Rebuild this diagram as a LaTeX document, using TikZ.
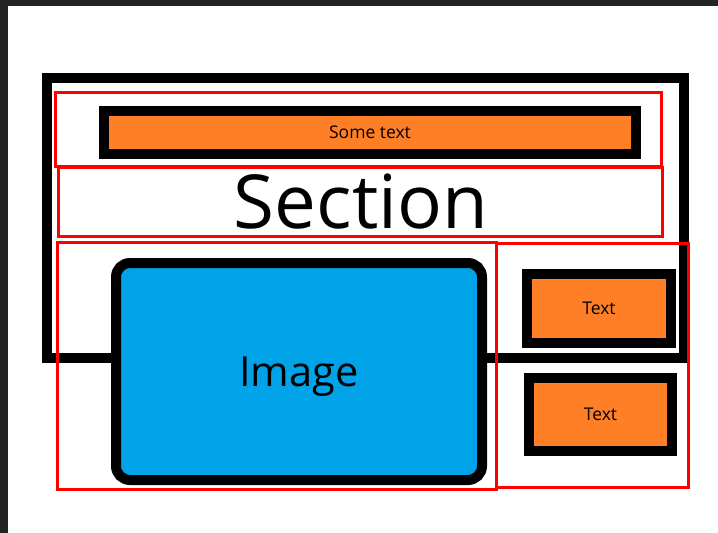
\documentclass[tikz,border=0pt]{standalone}
\usepackage{fontspec}
\setmainfont{Open Sans}
\usepackage{xcolor}
\usepackage{tikz}
\usetikzlibrary{positioning,calc}
\definecolor{paintorange}{HTML}{FF7F27}
\definecolor{paintblue}{HTML}{00A2E8}
\definecolor{chrome}{HTML}{222324}
\tikzset{
  frame/.style  = {draw=black, line width=10pt},
  guide/.style  = {draw=red, line width=3pt},
  obox/.style   = {rectangle, draw=black, line width=10pt, fill=paintorange,
                   inner sep=0pt, font=\fontsize{17.5}{20}\selectfont},
  imgbox/.style = {rectangle, draw=black, line width=10pt, fill=paintblue,
                   rounded corners=14pt, inner sep=0pt,
                   minimum width=366pt, minimum height=217pt,
                   text height=29.6pt, text depth=0pt,
                   font=\fontsize{41.5}{48}\selectfont},
  title/.style  = {inner sep=0pt, font=\fontsize{74.5}{84}\selectfont},
}

\begin{document}
\begin{tikzpicture}[x=1pt, y=-1pt]

%% ── Canvas ────────────────────────────────────────────────────────────────
\useasboundingbox (0,0) rectangle (718,533);
\fill[white] (0,0) rectangle (718,533);
\fill[chrome] (0,0) rectangle (718,6);
\fill[chrome] (0,0) rectangle (8,533);

%% ── Outer section frame ───────────────────────────────────────────────────
\draw[frame] (47,77.7) rectangle (684,357.5);

%% ── Header bar ────────────────────────────────────────────────────────────
\node[obox, minimum width=532pt, minimum height=43pt] (bar) at (370,132.5) {Some text};

%% ── Heading ───────────────────────────────────────────────────────────────
\node[title] (sec) at (361,201.5) {Section};

%% ── Image ─────────────────────────────────────────────────────────────────
\node[imgbox] (img) at (299,371.5) {Image};

%% ── Side texts ────────────────────────────────────────────────────────────
\node[obox, minimum width=144pt, minimum height=69pt] (txtA) at (599,308.5) {Text};
\node[obox, minimum width=143pt, minimum height=73pt] (txtB) at (600.5,414.5) {Text};

%% ── Red layout guides ─────────────────────────────────────────────────────
\draw[guide] (55,92) rectangle (661,166);
\draw[guide] (58,167.5) rectangle (662,236.5);
\draw[guide] (57.5,242) rectangle (496,489);
\draw[guide] (496,243) rectangle (688,487);

\end{tikzpicture}
\end{document}
